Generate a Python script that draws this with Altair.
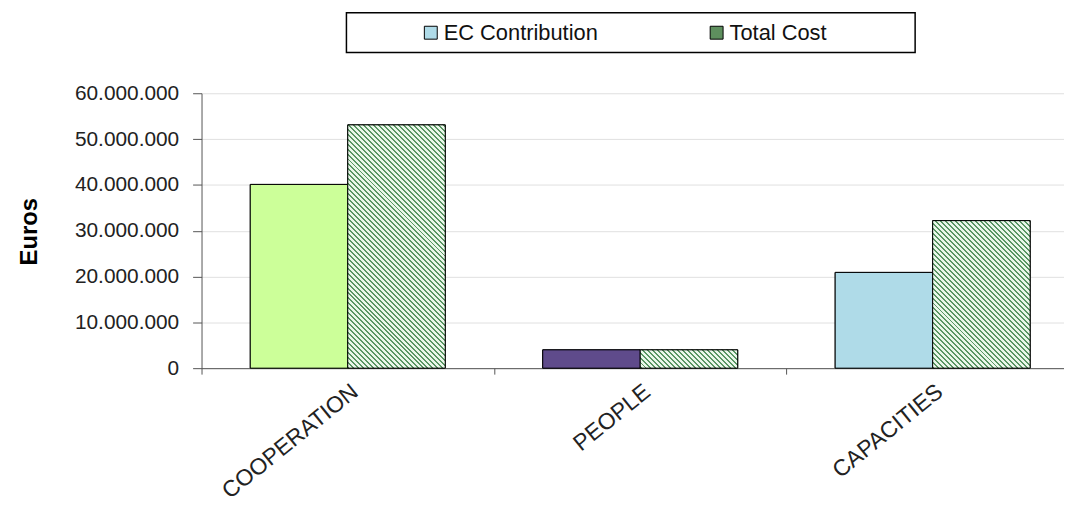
import altair as alt
import pandas as pd

# ---------------- data ----------------
categories = ["COOPERATION", "PEOPLE", "CAPACITIES"]
series = ["EC Contribution", "Total Cost"]
ec_contribution = [40_100_000, 4_000_000, 20_900_000]
total_cost = [53_100_000, 4_000_000, 32_200_000]
y_ticks = [0, 10_000_000, 20_000_000, 30_000_000, 40_000_000, 50_000_000, 60_000_000]

ec_colors = ["#ccff99", "#5f4b8b", "#afdbe8"]
legend_colors = ["#afdbe8", "#5e8f5e"]
HATCH_DARK = "#5a9664"
HATCH_LIGHT = "#eaf7ea"

rows = []
for c, e, t in zip(categories, ec_contribution, total_cost):
    rows.append({"category": c, "series": series[0], "value": e})
    rows.append({"category": c, "series": series[1], "value": t})
df = pd.DataFrame(rows)

# ---------------- layout ----------------
W, H = 864, 277          # visible plot area
X_RANGE = 884            # category bands run a little past the right edge (cropped, as in source)
Y_MAX = 60_000_000
BAR_W = X_RANGE / len(categories) / 3.0
FONT = "Liberation Sans, Arial, sans-serif"


def hatch(value, period=5.0, dark_frac=0.4):
    """Diagonal stripe fill ("\\" direction) built from a linear gradient."""
    h = max(value / Y_MAX * H, 1.0)
    w = BAR_W
    k = (w + h) / (w * w + h * h)
    n = (w + h) / period
    stops = []
    i = 0
    while i / n < 1:
        a = i / n
        b = min((i + dark_frac) / n, 1.0)
        c = min((i + 1) / n, 1.0)
        stops += [
            {"offset": a, "color": HATCH_DARK},
            {"offset": b, "color": HATCH_DARK},
            {"offset": b, "color": HATCH_LIGHT},
            {"offset": c, "color": HATCH_LIGHT},
        ]
        i += 1
    return {"gradient": "linear", "x1": 0, "y1": 1, "x2": k * w, "y2": 1 - k * h, "stops": stops}


x_axis = alt.Axis(
    title=None, labelAngle=-39, labelAlign="right", labelBaseline="top",
    labelFontSize=23, labelFont=FONT, labelColor="#222222", labelPadding=6,
    labelLimit=400, tickBand="extent", tickSize=6, tickColor="#555555",
    domainColor="#555555", grid=False,
)
y_axis = alt.Axis(
    values=y_ticks, title="Euros", titleFontSize=24, titleFontWeight="bold",
    titleFont=FONT, titleColor="#000000", titleX=-161, titleY=139,
    labelFontSize=21, labelFont=FONT, labelColor="#222222", labelPadding=14,
    tickSize=9, tickColor="#555555", domainColor="#555555",
    grid=True, gridColor="#e0e0e0",
    labelExpr="replace(format(datum.value, ','), regexp(',', 'g'), '.')",
)

base = alt.Chart(df).encode(
    x=alt.X("category:N", sort=categories,
            scale=alt.Scale(domain=categories, range=[0, X_RANGE],
                            paddingInner=0, paddingOuter=0, round=False),
            axis=x_axis),
    xOffset=alt.XOffset("series:N", sort=series,
                        scale=alt.Scale(domain=series, paddingInner=0, paddingOuter=0.5,
                                        round=False)),
    y=alt.Y("value:Q", scale=alt.Scale(domain=[0, Y_MAX], nice=False), axis=y_axis),
)

pad_right = "'" + "\u2800" * 5 + "'"
legend = alt.Legend(
    title="\u00a0", titleOrient="left", titlePadding=65, titleFontSize=22, titleFont=FONT,
    orient="none", legendX=146, legendY=-81, direction="horizontal",
    strokeColor="#000000", fillColor="#ffffff", padding=9,
    symbolType="square", symbolSize=169, symbolStrokeColor="#000000", symbolStrokeWidth=1,
    labelFontSize=22, labelFont=FONT, labelColor="#111111", labelOffset=2,
    columnPadding=108, labelLimit=500,
    labelExpr="datum.label == 'Total Cost' ? datum.label + " + pad_right + " : datum.label",
)

legend_layer = base.mark_bar(stroke="#000000", strokeWidth=1).encode(
    fill=alt.Fill("series:N", scale=alt.Scale(domain=series, range=legend_colors), legend=legend)
)

ec_layer = base.transform_filter(alt.datum.series == series[0]).mark_bar(
    stroke="#000000", strokeWidth=1
).encode(
    color=alt.Color("category:N", scale=alt.Scale(domain=categories, range=ec_colors), legend=None)
)

hatch_layers = []
for c, t in zip(categories, total_cost):
    hatch_layers.append(
        base.transform_filter((alt.datum.series == series[1]) & (alt.datum.category == c))
        .mark_bar(fill=hatch(t), stroke="#000000", strokeWidth=1)
    )

chart = alt.layer(legend_layer, ec_layer, *hatch_layers).properties(
    width=W, height=H,
    autosize=alt.AutoSizeParams(type="none"),
    padding={"left": 195, "top": 84, "right": 5, "bottom": 140},
    background="#ffffff",
).configure_view(stroke=None).configure_legend(strokeWidth=1.5)

chart.save("out.html", embed_options={"renderer": "svg", "actions": False})
